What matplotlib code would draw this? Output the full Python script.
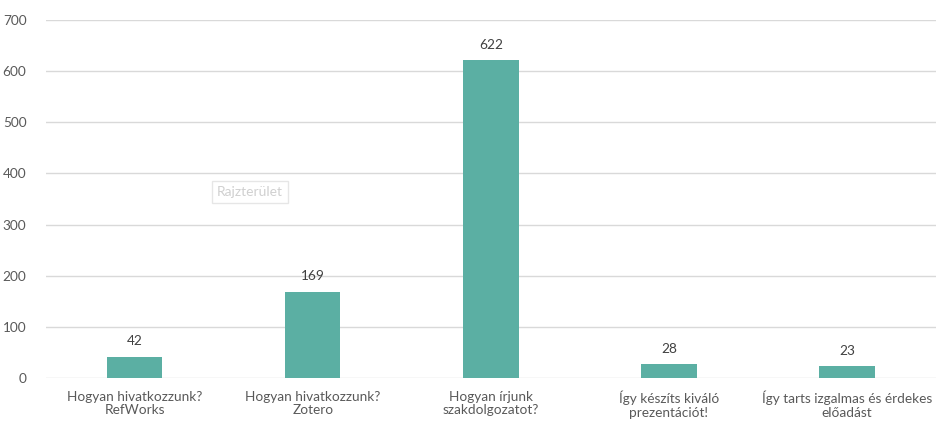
import matplotlib
matplotlib.use('Agg')
import matplotlib.pyplot as plt

# views per tutorial video
categories = ['Hogyan hivatkozzunk?\nRefWorks', 'Hogyan hivatkozzunk?\nZotero',
              'Hogyan írjunk\nszakdolgozatot?', 'Így készíts kiváló\nprezentációt!',
              'Így tarts izgalmas és érdekes\nelőadást']
values = [42, 169, 622, 28, 23]
yticks = [0, 100, 200, 300, 400, 500, 600, 700]

plt.rcParams['font.family'] = ['Lato', 'DejaVu Sans']

fig = plt.figure(figsize=(9.36, 4.21), dpi=100)
ax = fig.add_axes([0.049, 0.102, 0.951, 0.8505])

x = range(len(categories))
bars = ax.bar(x, values, width=0.31, color='#5bafa3', zorder=3)
for b, v in zip(bars, values):
    ax.text(b.get_x() + b.get_width() / 2, v + 18, str(v), ha='center', va='bottom',
            fontsize=9.8, color='#404040')

ax.set_xlim(-0.5, len(categories) - 0.5)
ax.set_ylim(0, 700)
ax.set_yticks(yticks)
ax.set_xticks(list(x))
ax.set_xticklabels(categories, fontsize=9.8, color='#595959', linespacing=1.15)
ax.tick_params(axis='y', labelsize=9.8, labelcolor='#595959', length=0, pad=14)
ax.tick_params(axis='x', length=0, pad=9)
ax.grid(axis='y', color='#d9d9d9', linewidth=1, zorder=0)
for s in ax.spines.values():
    s.set_visible(False)

# Excel tooltip left in the screenshot
ax.text(0.232, 0.535, 'Rajzterület', transform=fig.transFigure, fontsize=10, color='#d0d0d0',
        bbox=dict(boxstyle='square,pad=0.35', fc='white', ec='#e6e6e6', lw=1))

fig.savefig('out.png', dpi=100)
